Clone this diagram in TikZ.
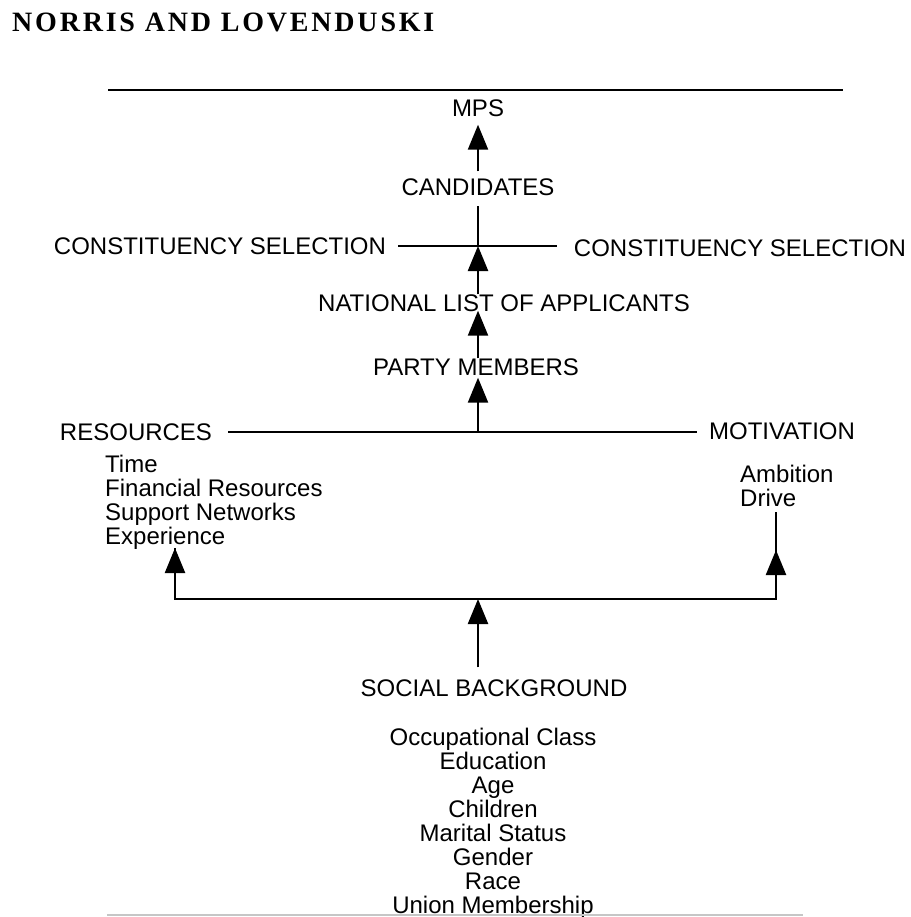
\documentclass[tikz,border=0pt]{standalone}
\usepackage{fontspec}
\setmainfont{Liberation Sans}
\newfontfamily\hdrfont[LetterSpace=10]{Liberation Serif}
\usetikzlibrary{arrows.meta}
\begin{document}
\begin{tikzpicture}[x=1pt,y=-1pt,
  lbl/.style={inner sep=0pt, text height=17pt, text depth=0pt, font=\fontsize{24}{24}\selectfont},
  items/.style={inner sep=0pt, font=\fontsize{24}{24}\selectfont},
  ln/.style={line width=2.3pt},
  arr/.style={line width=2.3pt, -{Triangle[length=25pt,width=20pt]}}]
\useasboundingbox (0,0) rectangle (910,917);
% header
\node[anchor=base west, inner sep=0pt, font=\hdrfont\bfseries\fontsize{28}{28}\selectfont] (hdr) at (12,32) {NORRIS AND LOVENDUSKI};
% top rule
\coordinate (tl) at (108,90);
\coordinate (tr) at (843,90);
\draw[line width=2.6pt] (tl) -- (tr);
% labels
\node[lbl] (mps) at (478,108) {MPS};
\node[lbl] (cand) at (478,187) {CANDIDATES};
\coordinate (cross) at (478,246);
\coordinate (hl) at (398,246);
\coordinate (hr) at (557,246);
\node[lbl] (csl) at (220,246) {CONSTITUENCY SELECTION};
\node[lbl] (csr) at (740,248) {CONSTITUENCY SELECTION};
\node[lbl] (natl) at (504,303) {NATIONAL LIST OF APPLICANTS};
\node[lbl] (party) at (476,367) {PARTY MEMBERS};
\coordinate (rm) at (478,432);
\coordinate (rl) at (228,432);
\coordinate (rr) at (697,432);
\node[lbl] (res) at (136,432) {RESOURCES};
\node[lbl] (mot) at (782,431) {MOTIVATION};
\node[items, anchor=north west, align=left] (resit) at (105,455) {Time\\Financial Resources\\Support Networks\\Experience};
\node[items, anchor=north west, align=left] (motit) at (740,465) {Ambition\\Drive};
\coordinate (bl) at (175,599);
\coordinate (bm) at (478,599);
\coordinate (br) at (776,599);
\coordinate (lt) at (175,548);
\coordinate (rt) at (776,550);
\coordinate (rtop) at (776,512);
\node[lbl] (soc) at (494,688) {SOCIAL BACKGROUND};
\node[items, anchor=north, align=center] (socit) at (493,728) {Occupational Class\\Education\\Age\\Children\\Marital Status\\Gender\\Race\\Union Membership};
\coordinate (fl) at (107,915);
\coordinate (fr) at (803,915);
\draw[gray!45, line width=1.5pt] (fl) -- (fr);
% connectors
\draw[arr, shorten <=7pt, shorten >=8pt] (cand.north) -- (mps.south);
\draw[ln, shorten >=10pt] (cross) -- (cand.south);
\draw[ln] (hl) -- (hr);
\draw[arr] (natl.north -| cross) -- (cross);
\draw[arr, shorten >=-1pt] (party.north -| cross) -- (natl.south -| cross);
\draw[arr, shorten >=2pt] (rm) -- (party.south -| rm);
\draw[ln] (rl) -- (rr);
\draw[ln, line join=miter] (lt) -- (bl) -- (br) -- (rtop);
\draw[arr] (bl) -- (lt);
\draw[arr] (br) -- (rt);
\draw[arr, shorten <=12pt] (soc.north -| bm) -- (bm);
\end{tikzpicture}
\end{document}
